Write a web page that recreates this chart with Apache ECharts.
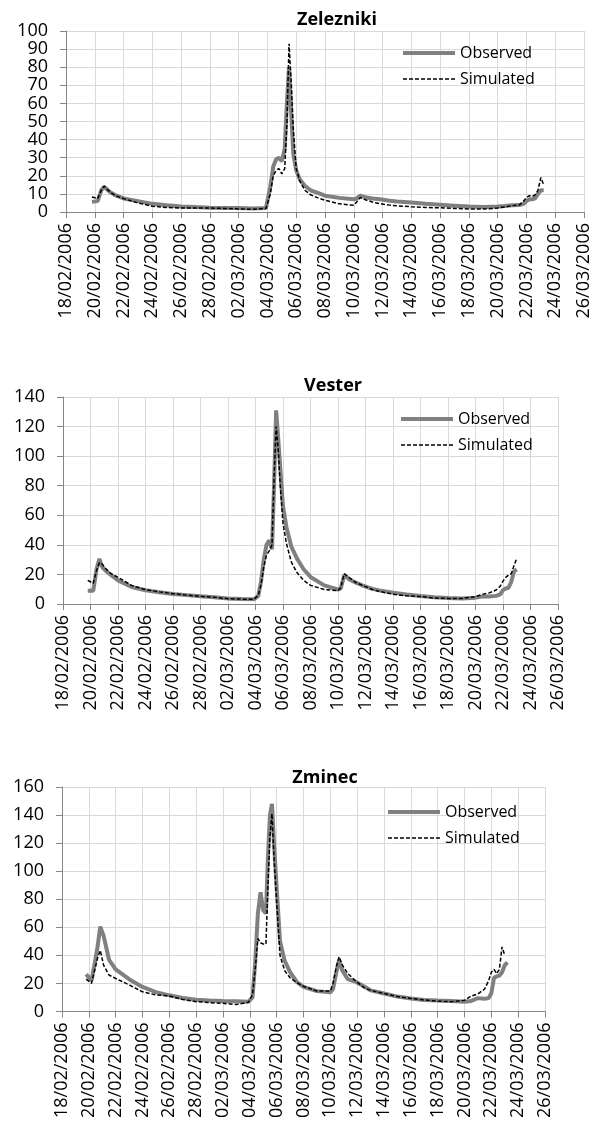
<!DOCTYPE html>
<html>
<head>
<meta charset="utf-8">
<script src="https://cdn.jsdelivr.net/npm/echarts@6/dist/echarts.min.js"></script>
<style>
  html, body { margin: 0; padding: 0; background: #fff; }
  #chart { width: 593px; height: 1121px; }
</style>
</head>
<body>
<div id="chart"></div>
<script>
// days after 18/02/2006 00:00
const days = [1.8, 2.2, 2.45, 2.65, 2.85, 3.1, 3.5, 4, 5, 6, 7, 8, 9, 10, 11, 12, 13, 13.9,
  14.2, 14.4, 14.6, 14.8, 15.0, 15.2, 15.35, 15.5, 15.65, 15.8, 16.0, 16.25, 16.6, 17, 17.5, 18,
  19, 20, 20.2, 20.45, 20.65, 20.9, 21.3, 21.8, 22.5, 23, 24, 25, 26, 27, 28, 29, 30, 30.5, 31,
  31.5, 31.8, 32.0, 32.2, 32.4, 32.6, 32.8, 33.0, 33.2];

const tickLabels = ['18/02/2006', '20/02/2006', '22/02/2006', '24/02/2006', '26/02/2006',
  '28/02/2006', '02/03/2006', '04/03/2006', '06/03/2006', '08/03/2006', '10/03/2006',
  '12/03/2006', '14/03/2006', '16/03/2006', '18/03/2006', '20/03/2006', '22/03/2006',
  '24/03/2006', '26/03/2006'];

const zeleznikiObs = [5.6, 6, 12, 14, 12.5, 10.8, 9, 7.5, 6, 4.5, 3.7, 3.1, 2.7, 2.4, 2.2, 2.2, 2, 2.2,
  14, 25, 29, 30, 28, 35, 60, 80, 55, 32, 23, 18, 14.5, 12, 10.5, 9,
  7.8, 7, 7.5, 9, 8.5, 8, 7.5, 7, 6.2, 5.8, 5.2, 4.5, 4, 3.5, 3, 2.8, 3, 3.3, 3.7,
  3.8, 4.5, 6, 7, 7, 7.5, 10, 12, 12];
const zeleznikiSim = [8.3, 7.4, 12, 14.3, 12.5, 10.8, 8.8, 7.4, 5, 3.2, 2.5, 2.2, 2.2, 2.2, 2, 1.7, 1.5, 2,
  10, 20, 23, 24, 21, 24, 48, 93, 72, 45, 24, 17, 12, 9.5, 7.8, 6.5,
  4.5, 3.7, 5.5, 8, 7.2, 6.5, 5.5, 4.6, 3.8, 3.4, 2.9, 2.5, 2.3, 2, 1.7, 1.6, 2.2, 2.8, 3.5,
  3.8, 6, 8, 9, 8.5, 9.5, 12, 19, 15];

const vesterObs = [9, 9, 24, 30.5, 25, 22.5, 19.5, 16, 11.5, 9.3, 8, 6.8, 6, 5.2, 4.5, 3.8, 3.4, 3.2,
  5.5, 15, 30, 40, 43, 37, 80, 131, 112, 92, 66, 52, 39, 31, 23.5, 18.3,
  12.6, 9.8, 10.5, 19.5, 18, 16.2, 14.5, 12.5, 10.2, 9.2, 7.7, 6.5, 5.4, 4.6, 4, 3.8, 4.3, 5, 5,
  5.5, 6.5, 9.4, 10.5, 11, 15, 22, 23.4, null];
const vesterSim = [16, 14, 23, 28, 27, 24, 20.5, 18, 12.5, 9.7, 8.2, 7, 6, 5.2, 4.5, 3.6, 3.3, 3.2,
  6, 13, 25, 33, 36, 40, 85, 120, 105, 80, 54.5, 41, 28.5, 21.5, 16, 12.6,
  9.8, 9, 11, 20.5, 19, 17.3, 14.5, 12.5, 9.8, 8.5, 6.6, 5.5, 5, 4, 3.8, 3.8, 5, 6.5, 7.5,
  9.5, 12, 15.5, 18, 19.5, 20.5, 26, 30.8, null];

const zminecObs = [26.5, 22, 35, 46, 60.5, 54, 37, 30, 23, 17.5, 13.8, 11.5, 9.6, 8.3, 7.8, 7.5, 7.3, 7,
  10, 35, 70, 85, 72, 70, 110, 140, 148, 120, 88, 50, 36, 28, 21, 17.5,
  14.5, 13.6, 16, 28, 36.5, 29, 23, 21.5, 18, 15, 12.8, 10.6, 9.3, 8.2, 7.8, 7.5, 7, 7.5, 9.5,
  9, 9.5, 13, 24, 25, 25.5, 28, 33, 35];
const zminecSim = [23, 20, 30, 38, 43.5, 33, 26, 23.5, 19, 14, 11.8, 11, 8.5, 7, 6.3, 5.8, 5, 6.6,
  12, 30, 52, 49, 48, 48, 90, 125, 141, 110, 78, 40, 29, 24, 20.5, 18,
  14.5, 14.6, 20, 32, 39, 33, 27, 22.5, 17, 15, 12.8, 10.6, 9.3, 8.2, 7.3, 7, 8, 11, 12.5,
  16, 22, 28, 30, 27, 30, 46, 40, null];

const stations = ['Zelezniki', 'Vester', 'Zminec'];
const yMax = [100, 140, 160];
const yStep = [10, 20, 20];

const pairs = (vals) => days.map((d, i) => [d, vals[i]]);
const obsData = [zeleznikiObs, vesterObs, zminecObs];
const simData = [zeleznikiSim, vesterSim, zminecSim];

// layout of the three panels (px)
const grids = [
  { left: 66, top: 31, width: 519, height: 181 },
  { left: 63, top: 397, width: 495, height: 207 },
  { left: 62, top: 787, width: 483, height: 226 }
];
const titlePos = [[332, 6], [328, 372], [320, 764]];
const legendPos = [[396, 40], [394, 406], [381, 799]];

const font = 'Open Sans';
const axisColor = '#868686';
const gridColor = '#d9d9d9';
const obsColor = '#808080';

let chart = echarts.init(document.getElementById('chart'), null, { renderer: 'canvas' });

chart.setOption({
  backgroundColor: '#fff',
  animation: false,
  title: stations.map((s, i) => ({
    text: s,
    left: titlePos[i][0],
    top: titlePos[i][1],
    textAlign: 'center',
    textStyle: { fontFamily: font, fontSize: 18, fontWeight: 'bold', color: '#000' }
  })),
  legend: stations.map((s, i) => ({
    left: legendPos[i][0],
    top: legendPos[i][1],
    orient: 'vertical',
    itemWidth: 52,
    itemHeight: 14,
    itemGap: 10,
    itemStyle: { color: 'rgba(0,0,0,0)', borderWidth: 0 },
    textStyle: { fontFamily: font, fontSize: 16, color: '#000' },
    data: [
      { name: 'Observed', lineStyle: { color: obsColor, width: 4 } },
      { name: 'Simulated', lineStyle: { color: '#000', width: 1.5, type: [4, 2] } }
    ]
  })),
  grid: grids.map(g => ({ ...g, containLabel: false })),
  xAxis: grids.map((g, i) => ({
    type: 'value',
    gridIndex: i,
    min: 0,
    max: 36,
    interval: 2,
    axisLine: { show: true, lineStyle: { color: axisColor, width: 1 } },
    axisTick: { show: true, length: 6, lineStyle: { color: axisColor } },
    splitLine: { show: true, lineStyle: { color: gridColor, width: 1 } },
    axisLabel: {
      rotate: 90,
      margin: 11,
      fontFamily: font,
      fontSize: 18,
      color: '#000',
      formatter: (v) => tickLabels[Math.round(v / 2)]
    }
  })),
  yAxis: grids.map((g, i) => ({
    type: 'value',
    gridIndex: i,
    min: 0,
    max: yMax[i],
    interval: yStep[i],
    axisLine: { show: true, lineStyle: { color: axisColor, width: 1 } },
    axisTick: { show: true, length: 6, lineStyle: { color: axisColor } },
    splitLine: { show: true, lineStyle: { color: gridColor, width: 1 } },
    axisLabel: { margin: 18, fontFamily: font, fontSize: 18, color: '#000' }
  })),
  series: stations.flatMap((s, i) => [
    {
      name: 'Observed',
      type: 'line',
      xAxisIndex: i,
      yAxisIndex: i,
      symbol: 'none',
      z: 2,
      lineStyle: { color: obsColor, width: 4 },
      itemStyle: { color: obsColor },
      data: pairs(obsData[i])
    },
    {
      name: 'Simulated',
      type: 'line',
      xAxisIndex: i,
      yAxisIndex: i,
      symbol: 'none',
      z: 3,
      lineStyle: { color: '#000', width: 1.5, type: [4, 2] },
      itemStyle: { color: '#000' },
      data: pairs(simData[i])
    }
  ])
});
</script>
</body>
</html>
